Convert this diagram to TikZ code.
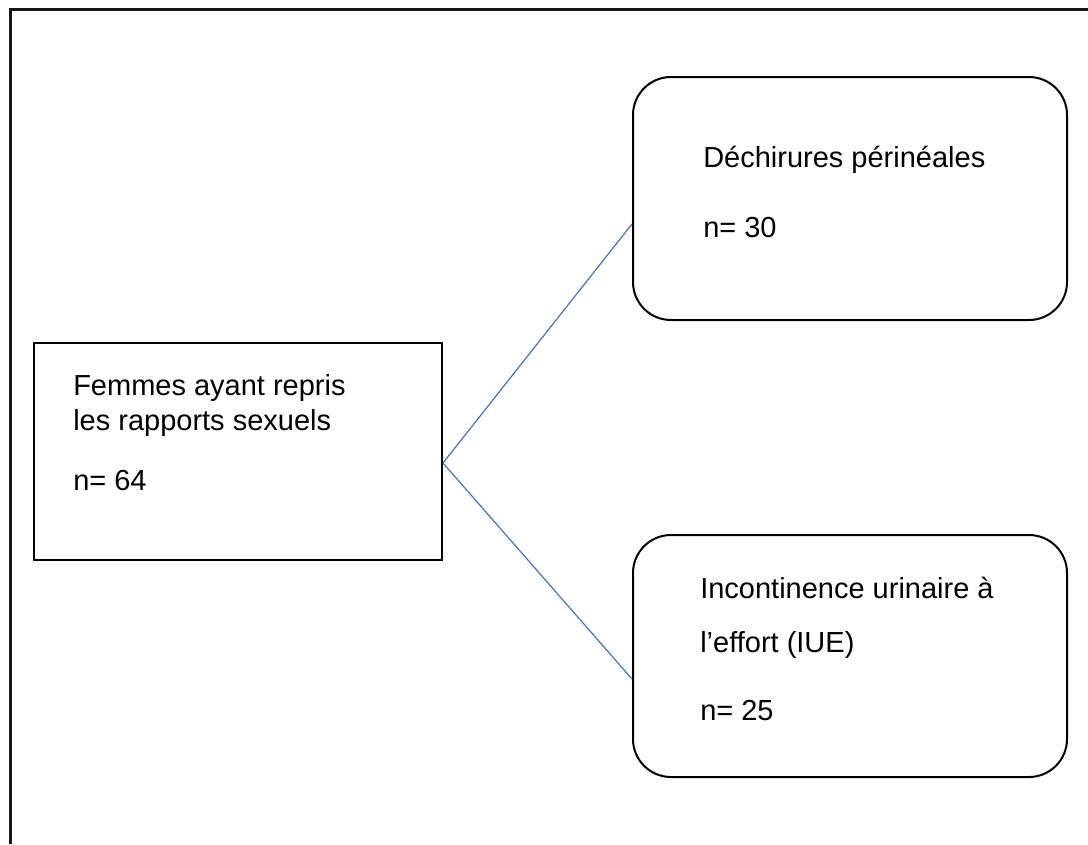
\documentclass[tikz,border=0pt]{standalone}
\usepackage{fontspec}
\setmainfont{Liberation Sans}
\newlength{\du}
\setlength{\du}{0.75pt}
\definecolor{linkblue}{RGB}{68,114,196}
\tikzset{
  boxsq/.style={draw=black, line width=2\du, rectangle, inner sep=0pt},
  boxrnd/.style={draw=black, line width=2\du, rectangle, rounded corners=38\du, inner sep=0pt},
  txt/.style={anchor=base west, inner sep=0pt, font=\fontsize{21.75}{26}\selectfont},
  link/.style={draw=linkblue, line width=1.2\du}
}

\begin{document}
\begin{tikzpicture}[x=\du, y=-\du]
\useasboundingbox (0,0) rectangle (1088,844);
% frame
\draw[line width=3\du, black!90] (10,844) -- (10,9) -- (1088,9);
% boxes
\node[boxsq, minimum width=408\du, minimum height=217\du] (femmes) at (238,451.5) {};
\node[boxrnd, minimum width=434\du, minimum height=243\du] (dechir) at (850,198.5) {};
\node[boxrnd, minimum width=434\du, minimum height=242\du] (iue) at (850,656) {};
% texts
\node[txt] (femmesA) at (73,395) {Femmes ayant repris};
\node[txt] (femmesB) at (73,430) {les rapports sexuels};
\node[txt] (femmesN) at (73,490) {n= 64};
\node[txt] (dechirA) at (703,167) {Déchirures périnéales};
\node[txt] (dechirN) at (703,237) {n= 30};
\node[txt] (iueA) at (700,598) {Incontinence urinaire à};
\node[txt] (iueB) at (700,652) {l’effort (IUE)};
\node[txt] (iueN) at (700,720) {n= 25};
% links
\draw[link] ([yshift=-11.5\du]femmes.east) -- ([yshift=-25.5\du]dechir.west);
\draw[link] ([yshift=-11.5\du]femmes.east) -- ([yshift=-23\du]iue.west);
\end{tikzpicture}
\end{document}
